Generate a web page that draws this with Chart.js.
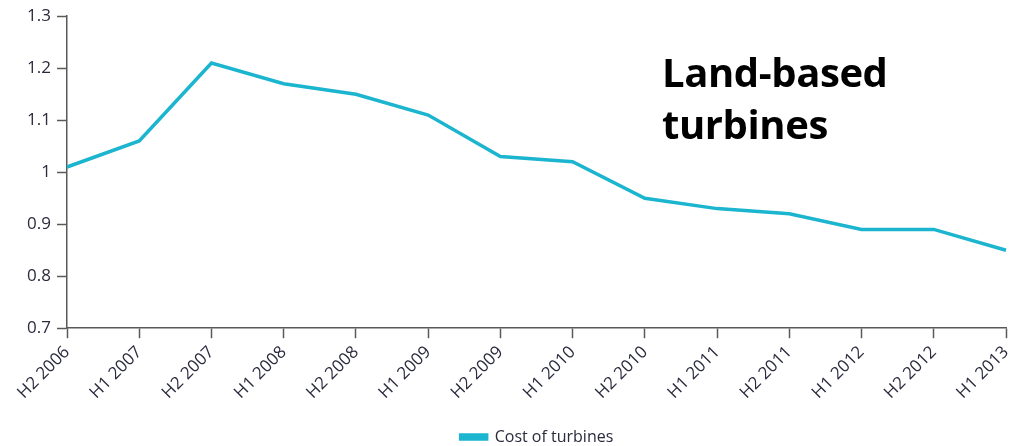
<!DOCTYPE html>
<html>
<head>
<meta charset="utf-8">
<script src="https://cdn.jsdelivr.net/npm/chart.js@4"></script>
<style>
  body { margin: 0; background: #fff; }
  .wrap { position: relative; width: 1026px; height: 446px; }
  .note {
    position: absolute; left: 662px; top: 46px;
    font: bold 40px "Open Sans", sans-serif; line-height: 52px;
    color: #000; letter-spacing: -0.4px;
  }
</style>
</head>
<body>
<div class="wrap">
  <canvas id="cost_chart" width="1026" height="446"></canvas>
  <div class="note">Land-based<br>turbines</div>
</div>
<script>
// half-year periods and turbine cost index
const periods = [
  "H2 2006", "H1 2007", "H2 2007", "H1 2008", "H2 2008", "H1 2009", "H2 2009",
  "H1 2010", "H2 2010", "H1 2011", "H2 2011", "H1 2012", "H2 2012", "H1 2013",
];
const turbineCost = [1.01, 1.06, 1.21, 1.17, 1.15, 1.11, 1.03, 1.02, 0.95, 0.93, 0.92, 0.89, 0.89, 0.85];
const yTicks = [0.7, 0.8, 0.9, 1, 1.1, 1.2, 1.3];

const lineColor = "#1bb5d0";
const axisColor = "#595959";
const textColor = "#2a2b3d";

// nudge the legend a bit right of centre
const legendShift = {
  id: "legendShift",
  afterLayout(chart) {
    const lg = chart.legend;
    lg.left += 34;
    lg.right += 34;
    lg.adjustHitBoxes();
  },
};

let context = document.querySelector("#cost_chart").getContext("2d");
new Chart(context, {
  type: "line",
  data: {
    labels: periods,
    datasets: [
      {
        label: "Cost of turbines",
        data: turbineCost,
        borderColor: lineColor,
        backgroundColor: lineColor,
        borderWidth: 3.5,
        pointRadius: 0,
        tension: 0,
      },
    ],
  },
  plugins: [legendShift],
  options: {
    responsive: false,
    animation: false,
    layout: {
      padding: { top: 8, right: 20, left: 0, bottom: -9 },
    },
    scales: {
      x: {
        offset: false,
        afterFit: (scale) => { scale.height += 20; },
        grid: {
          drawOnChartArea: false,
          tickLength: 10,
          tickColor: axisColor,
          tickWidth: 1.5,
        },
        border: { color: axisColor, width: 1.5 },
        ticks: {
          minRotation: 45,
          maxRotation: 45,
          color: textColor,
          font: { family: "Open Sans", size: 17 },
          padding: 4,
        },
      },
      y: {
        min: 0.7,
        max: 1.3,
        afterFit: (scale) => { scale.width = 67; },
        afterBuildTicks: (scale) => {
          scale.ticks = yTicks.map((v) => ({ value: v }));
        },
        grid: {
          drawOnChartArea: false,
          tickLength: 10,
          tickColor: axisColor,
          tickWidth: 1.5,
        },
        border: { color: axisColor, width: 1.5 },
        ticks: {
          color: textColor,
          font: { family: "Open Sans", size: 17 },
          padding: 6,
          callback: (value) => String(value),
        },
      },
    },
    plugins: {
      legend: {
        position: "bottom",
        labels: {
          boxWidth: 26,
          boxHeight: 4,
          color: textColor,
          font: { family: "Open Sans", size: 16 },
          padding: 2,
        },
      },
      tooltip: { enabled: false },
    },
  },
});
</script>
</body>
</html>
